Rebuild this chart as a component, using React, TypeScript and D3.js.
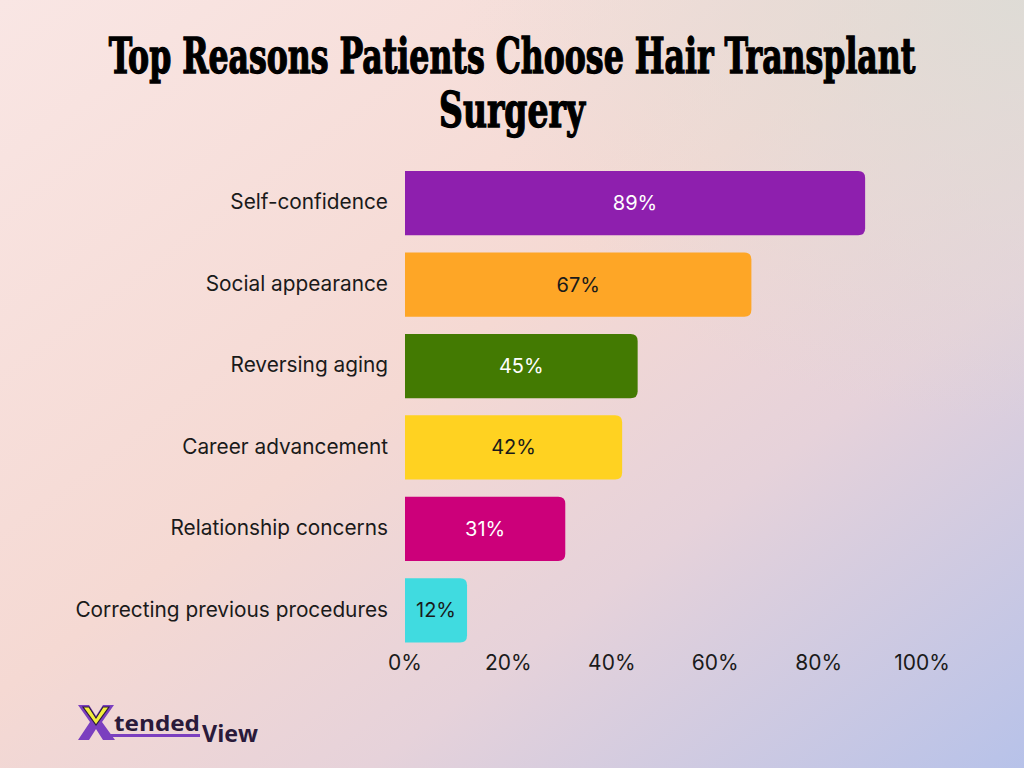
import React, { useRef, useEffect } from 'react';
import * as d3 from 'd3';

const reasons = [
  'Self-confidence',
  'Social appearance',
  'Reversing aging',
  'Career advancement',
  'Relationship concerns',
  'Correcting previous procedures',
];
const shares = [89, 67, 45, 42, 31, 12];
const barColors = ['#8E1FAE', '#FEA626', '#437A02', '#FFD221', '#CC007A', '#40DBE0'];
const labelColors = ['#FFFFFF', '#1A1A1A', '#FFFFFF', '#1A1A1A', '#FFFFFF', '#1A1A1A'];
const xTicks = [0, 20, 40, 60, 80, 100];

const titleLines = ['Top Reasons Patients Choose Hair Transplant', 'Surgery'];

const WIDTH = 1024;
const HEIGHT = 768;

// rectangle with only the right-hand corners rounded
function rightRoundedRect(x: number, y: number, w: number, h: number, r: number) {
  const rr = Math.min(r, w / 2, h / 2);
  return `M${x},${y}H${x + w - rr}Q${x + w},${y} ${x + w},${y + rr}V${y + h - rr}Q${x + w},${y + h} ${x + w - rr},${y + h}H${x}Z`;
}

export default function App() {
  const svgRef = useRef<SVGSVGElement>(null);

  useEffect(() => {
    if (!svgRef.current) return;
    const svg = d3.select(svgRef.current);
    svg.selectAll('*').remove();

    const defs = svg.append('defs');
    const bg = defs.append('linearGradient')
      .attr('id', 'bg')
      .attr('x1', 0).attr('y1', 0).attr('x2', 1).attr('y2', 1);
    bg.append('stop').attr('offset', '0%').attr('stop-color', '#F9E6E4');
    bg.append('stop').attr('offset', '45%').attr('stop-color', '#F5D9D3');
    bg.append('stop').attr('offset', '68%').attr('stop-color', '#E6D2DA');
    bg.append('stop').attr('offset', '100%').attr('stop-color', '#B7C2E9');

    const tr = defs.append('radialGradient')
      .attr('id', 'tr')
      .attr('cx', 1).attr('cy', 0).attr('r', 0.55);
    tr.append('stop').attr('offset', '0%').attr('stop-color', '#DCDCD6').attr('stop-opacity', 0.9);
    tr.append('stop').attr('offset', '100%').attr('stop-color', '#DCDCD6').attr('stop-opacity', 0);

    svg.append('rect').attr('width', WIDTH).attr('height', HEIGHT).attr('fill', 'url(#bg)');
    svg.append('rect').attr('width', WIDTH).attr('height', HEIGHT).attr('fill', 'url(#tr)');

    // title, squeezed horizontally to the condensed display width
    const titleY = [73, 127];
    const titleW = [807, 146];
    titleLines.forEach((line, i) => {
      const g = svg.append('g');
      const t = g.append('text')
        .attr('x', 0)
        .attr('y', 0)
        .attr('text-anchor', 'middle')
        .attr('font-family', '"DejaVu Serif Condensed", "DejaVu Serif", serif')
        .attr('font-weight', 'bold')
        .attr('font-size', 48)
        .attr('fill', '#000')
        .attr('stroke', '#000')
        .attr('stroke-width', 1.3)
        .text(line);
      const natural = (t.node() as SVGTextElement).getComputedTextLength() || titleW[i];
      g.attr('transform', `translate(512,${titleY[i]}) scale(${titleW[i] / natural},1)`);
    });

    const x = d3.scaleLinear().domain([0, 100]).range([405, 922]);
    const y = d3.scaleBand<string>()
      .domain(reasons)
      .range([162.5, 651])
      .paddingInner(0.21)
      .paddingOuter(0.105);

    const font = 'Inter, "Noto Sans", sans-serif';

    const rows = svg.append('g')
      .selectAll('g')
      .data(reasons)
      .join('g');

    rows.append('path')
      .attr('d', (d, i) => rightRoundedRect(x(0), y(d)!, x(shares[i]) - x(0), y.bandwidth(), 7))
      .attr('fill', (d, i) => barColors[i]);

    rows.append('text')
      .attr('x', (d, i) => (x(0) + x(shares[i])) / 2)
      .attr('y', (d) => y(d)! + y.bandwidth() / 2)
      .attr('dy', '0.35em')
      .attr('text-anchor', 'middle')
      .attr('font-family', font)
      .attr('font-size', 20)
      .attr('fill', (d, i) => labelColors[i])
      .text((d, i) => `${shares[i]}%`);

    rows.append('text')
      .attr('x', x(0) - 17)
      .attr('y', (d) => y(d)! + y.bandwidth() / 2 - 1)
      .attr('dy', '0.35em')
      .attr('text-anchor', 'end')
      .attr('font-family', font)
      .attr('font-size', 20.8)
      .attr('fill', '#1A1A1A')
      .text((d) => d);

    // x axis labels, no line or ticks
    svg.append('g')
      .selectAll('text')
      .data(xTicks)
      .join('text')
      .attr('x', (d) => x(d))
      .attr('y', 663)
      .attr('dy', '0.35em')
      .attr('text-anchor', 'middle')
      .attr('font-family', font)
      .attr('font-size', 21)
      .attr('fill', '#1A1A1A')
      .text((d) => `${d}%`);

    // brand mark
    const logo = svg.append('g').attr('transform', 'translate(78,705)');
    logo.append('path')
      .attr('d', 'M0,0 H11 L18,11 L25,0 H36 L24,17 L37,35 H25 L18,24 L11,35 H0 L12,17 Z')
      .attr('fill', '#7B3FBF');
    logo.append('path')
      .attr('d', 'M5,2 H11 L18,13 L25,2 H31 L18,20 Z')
      .attr('fill', '#F2EE3C')
      .attr('stroke', '#2A1A3A')
      .attr('stroke-width', 1.1);
    logo.append('text')
      .attr('x', 36)
      .attr('y', 26)
      .attr('font-family', '"Open Sans", Lato, sans-serif')
      .attr('font-weight', 'bold')
      .attr('font-size', 21)
      .attr('textLength', 86)
      .attr('lengthAdjust', 'spacingAndGlyphs')
      .attr('fill', '#2A1A3A')
      .text('tended');
    logo.append('rect')
      .attr('x', 30).attr('y', 29).attr('width', 92).attr('height', 3)
      .attr('fill', '#7B3FBF');
    logo.append('text')
      .attr('x', 124)
      .attr('y', 37)
      .attr('font-family', '"Open Sans", Lato, sans-serif')
      .attr('font-weight', 'bold')
      .attr('font-size', 23)
      .attr('textLength', 56)
      .attr('lengthAdjust', 'spacingAndGlyphs')
      .attr('fill', '#2A1A3A')
      .text('View');
  }, []);

  return (
    <svg
      ref={svgRef}
      width={WIDTH}
      height={HEIGHT}
      style={{ position: 'absolute', left: 0, top: 0 }}
    />
  );
}
